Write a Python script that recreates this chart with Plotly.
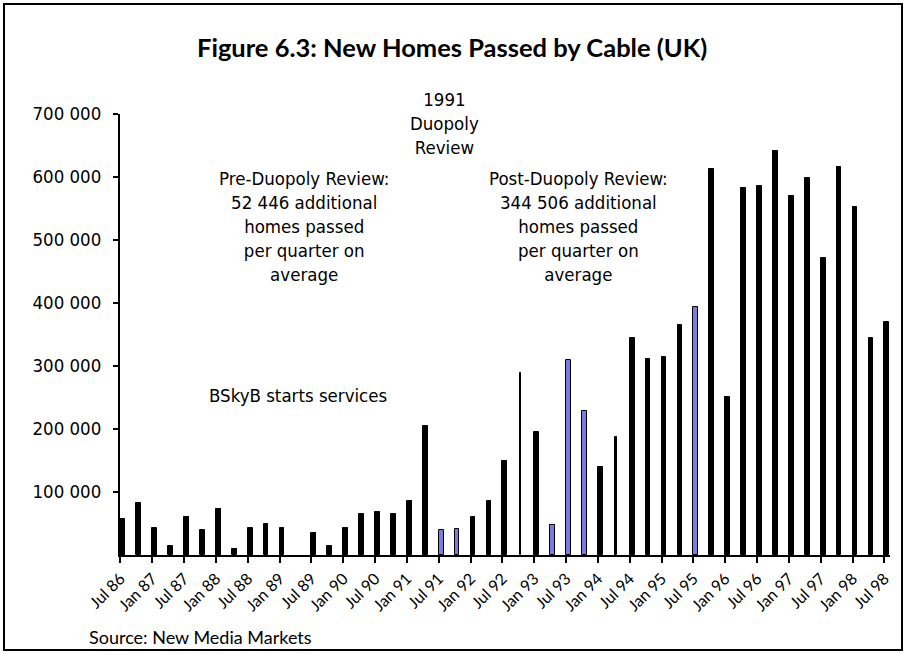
import plotly.graph_objects as go

quarters = [
    "Jul 86", "Oct 86", "Jan 87", "Apr 87", "Jul 87", "Oct 87", "Jan 88", "Apr 88",
    "Jul 88", "Oct 88", "Jan 89", "Apr 89", "Jul 89", "Oct 89", "Jan 90", "Apr 90",
    "Jul 90", "Oct 90", "Jan 91", "Apr 91", "Jul 91", "Oct 91", "Jan 92", "Apr 92",
    "Jul 92", "Oct 92", "Jan 93", "Apr 93", "Jul 93", "Oct 93", "Jan 94", "Apr 94",
    "Jul 94", "Oct 94", "Jan 95", "Apr 95", "Jul 95", "Oct 95", "Jan 96", "Apr 96",
    "Jul 96", "Oct 96", "Jan 97", "Apr 97", "Jul 97", "Oct 97", "Jan 98", "Apr 98",
    "Jul 98",
]
homes_passed = [
    57000, 82000, 43000, 14000, 61000, 40000, 73000, 9500,
    43000, 49000, 43000, 0, 35000, 14000, 43000, 65000,
    69000, 65000, 86000, 205000, 39000, 42000, 61000, 86000,
    149000, 289000, 196000, 47000, 310000, 229000, 140000, 188000,
    344000, 311000, 315000, 365000, 394000, 612000, 251000, 582000,
    586000, 642000, 570000, 599000, 472000, 616000, 553000, 345000,
    370000,
]
highlighted = ["Jul 91", "Oct 91", "Apr 93", "Jul 93", "Oct 93", "Jul 95"]
thin_bars = ["Oct 92", "Apr 94"]

tick_labels = quarters[::2]
y_tick_vals = [100000, 200000, 300000, 400000, 500000, 600000, 700000]
y_tick_text = ["100 000", "200 000", "300 000", "400 000", "500 000", "600 000", "700 000"]

W, H = 905, 654
ML, MR, MT, MB = 120, 15, 114, 99
XR = [-0.03, 48.35]
YR = [0, 700000]
PW = W - ML - MR
PH = H - MT - MB


def paper_x(px):
    return (px - ML) / PW


def paper_y(py):
    return (H - MB - py) / PH


xs = list(range(len(quarters)))
colors = ["#7b7be4" if q in highlighted else "black" for q in quarters]
widths = [0.08 if q in thin_bars else 0.30 for q in quarters]
offsets = [0.10 if q in thin_bars else 0.0 for q in quarters]
line_w = [1 if v > 0 else 0 for v in homes_passed]

fig = go.Figure()
fig.add_trace(go.Bar(
    x=xs, y=homes_passed, width=widths, offset=offsets,
    marker=dict(color=colors, line=dict(color="black", width=line_w)),
    hovertext=quarters, showlegend=False,
))

narrow = "Liberation Sans Narrow, DejaVu Sans Condensed, Arial Narrow, sans-serif"
geo = "Lato, Open Sans, sans-serif"

fig.update_layout(
    width=W, height=H,
    margin=dict(l=ML, r=MR, t=MT, b=MB, pad=0),
    paper_bgcolor="white", plot_bgcolor="white",
    bargap=0,
    xaxis=dict(
        range=XR, tickmode="array", tickvals=xs[::2], ticktext=tick_labels,
        tickangle=-45, ticks="outside", ticklen=6, tickwidth=2, tickcolor="black",
        showline=True, linecolor="black", linewidth=2, showgrid=False, zeroline=False,
        tickfont=dict(family=geo, size=16, color="black"),
    ),
    yaxis=dict(
        range=YR, tickmode="array", tickvals=y_tick_vals, ticktext=y_tick_text,
        ticks="outside", ticklen=5, tickwidth=2, tickcolor="black",
        showline=True, linecolor="black", linewidth=2, showgrid=False, zeroline=False,
        tickfont=dict(family=narrow, size=18.5, color="black"), ticklabelstandoff=8,
    ),
)

# Outer frame
fig.add_shape(type="rect", xref="paper", yref="paper",
              x0=paper_x(4), x1=paper_x(902), y0=paper_y(650), y1=paper_y(4),
              line=dict(color="black", width=2), fillcolor="rgba(0,0,0,0)", layer="below")

fig.add_annotation(text="<b>Figure 6.3: New Homes Passed by Cable (UK)</b>",
                   xref="paper", yref="paper", x=paper_x(452), y=paper_y(47),
                   showarrow=False, xanchor="center", yanchor="middle",
                   font=dict(family=geo, size=25.5, color="black"))

fig.add_annotation(text="Source: New Media Markets",
                   xref="paper", yref="paper", x=paper_x(87), y=paper_y(637),
                   showarrow=False, xanchor="left", yanchor="middle",
                   font=dict(family=geo, size=18, color="black"))

blocks = [
    (444, 124, ["1991", "Duopoly", "Review"]),
    (304, 226, ["Pre-Duopoly Review:", "52 446 additional", "homes passed",
                "per quarter on", "average"]),
    (578, 226, ["Post-Duopoly Review:", "344 506 additional", "homes passed",
                "per quarter on", "average"]),
    (298, 395, ["BSkyB starts services"]),
]
for cx, cy, lines in blocks:
    fig.add_annotation(text="<br>".join(lines), x=paper_x(cx), y=paper_y(cy),
                       xref="paper", yref="paper", showarrow=False,
                       xanchor="center", yanchor="middle", align="center",
                       font=dict(family=narrow, size=18.5, color="black"))

fig.write_html("out.html")
